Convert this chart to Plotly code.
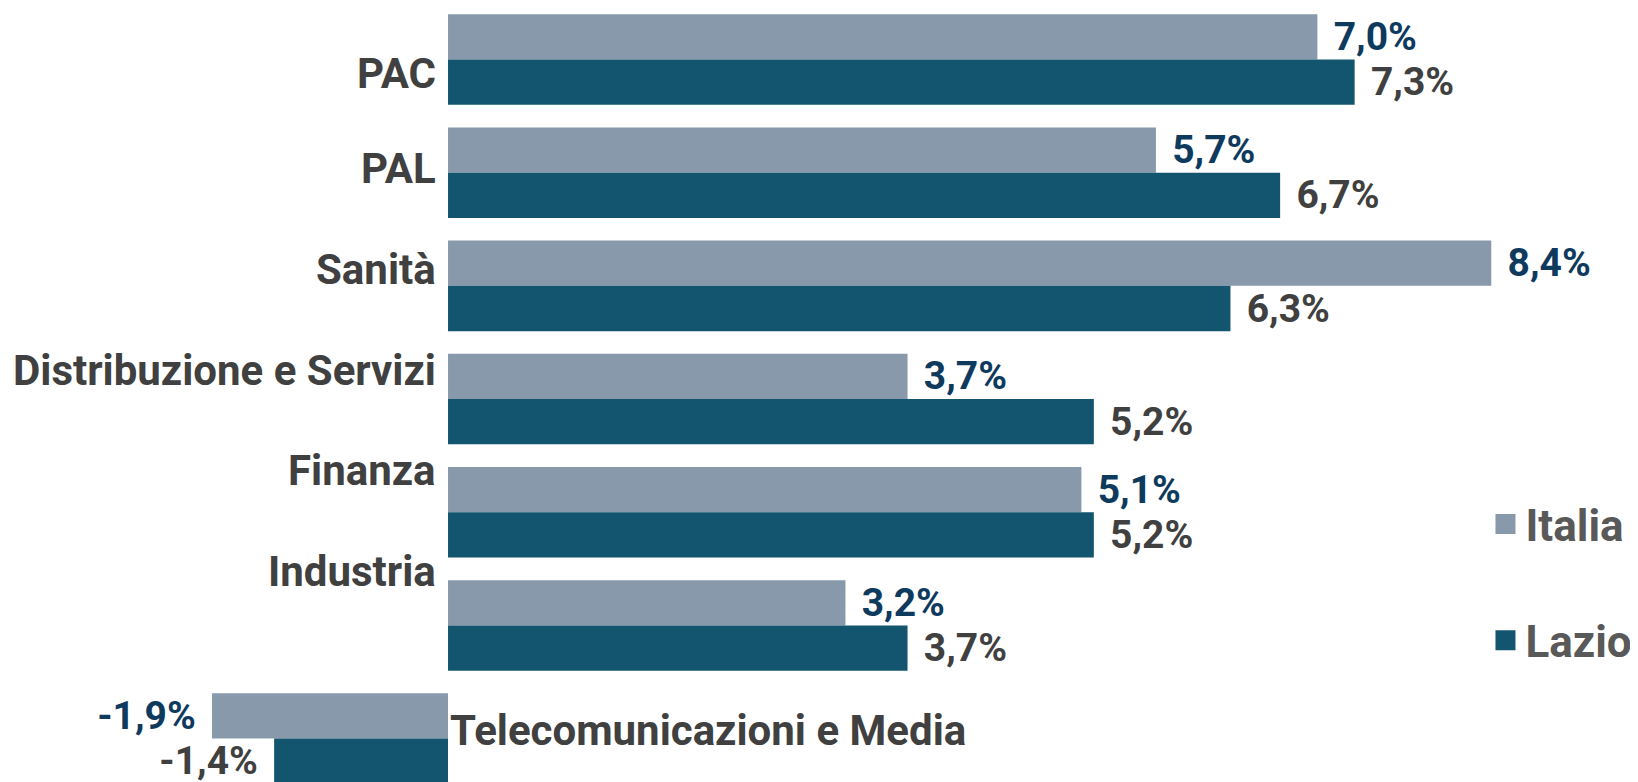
import plotly.graph_objects as go

# Data
categories = ["PAC", "PAL", "Sanità", "Distribuzione e Servizi", "Finanza",
              "Industria", "Telecomunicazioni e Media"]
italia = [7.0, 5.7, 8.4, 3.7, 5.1, 3.2, -1.9]
lazio = [7.3, 6.7, 6.3, 5.2, 5.2, 3.7, -1.4]

C_ITALIA = "#8799AB"
C_LAZIO = "#13546F"
FONT = "Roboto"

# where the category labels sit (category index units); they drift above the group centres
label_y = [0.12, 0.964, 1.854, 2.744, 3.634, 4.524, 5.93]


def fmt(v):
    s = f"{v:.1f}".replace(".", ",") + "%"
    # pad away from the bar end
    return "\u2004" + s if v >= 0 else s + "\u2004"


fig = go.Figure()
fig.add_trace(go.Bar(y=categories, x=italia, orientation="h", name="Italia",
                     marker=dict(color=C_ITALIA, line=dict(width=0)),
                     text=[fmt(v) for v in italia], textposition="outside",
                     textfont=dict(family=FONT, size=39, weight="bold", color="#0E3A5E"),
                     constraintext="none", cliponaxis=False, showlegend=False))
fig.add_trace(go.Bar(y=categories, x=lazio, orientation="h", name="Lazio",
                     marker=dict(color=C_LAZIO, line=dict(width=0)),
                     text=[fmt(v) for v in lazio], textposition="outside",
                     textfont=dict(family=FONT, size=39, weight="bold", color="#404040"),
                     constraintext="none", cliponaxis=False, showlegend=False))

# legend entries (square swatches)
for name, col in [("Italia", C_ITALIA), ("Lazio", C_LAZIO)]:
    fig.add_trace(go.Scatter(x=[None], y=[None], mode="markers", name=name,
                             legendgroup=name,
                             marker=dict(symbol="square", size=20, color=col,
                                         line=dict(width=4, color=col))))

lab_font = dict(family=FONT, size=42, weight="bold", color="#404040")
ann = []
for cat, yy in zip(categories[:-1], label_y[:-1]):
    ann.append(dict(x=0, y=yy, xref="x", yref="y", text=cat,
                    xanchor="right", yanchor="middle", xshift=-10, showarrow=False,
                    font=lab_font))
# negative group: label goes on the right of the zero line
ann.append(dict(x=0, y=label_y[-1], xref="x", yref="y", text=categories[-1],
                xanchor="left", yanchor="middle", xshift=0, showarrow=False,
                font=lab_font))

fig.update_layout(
    width=1638, height=782,
    margin=dict(l=0, r=0, t=0, b=0),
    paper_bgcolor="white", plot_bgcolor="white",
    barmode="group", bargap=0.2, bargroupgap=0,
    xaxis=dict(range=[-3.543, 9.646], visible=False, showgrid=False, zeroline=False),
    yaxis=dict(range=[6.454, -0.455], showticklabels=False, showgrid=False,
               zeroline=False, ticks=""),
    legend=dict(x=0.902, y=0.385, xanchor="left", yanchor="top",
                traceorder="grouped", tracegroupgap=56,
                font=dict(family=FONT, size=44, weight="bold", color="#595959"),
                bgcolor="rgba(0,0,0,0)"),
    annotations=ann,
)

fig.write_html("out.html")
